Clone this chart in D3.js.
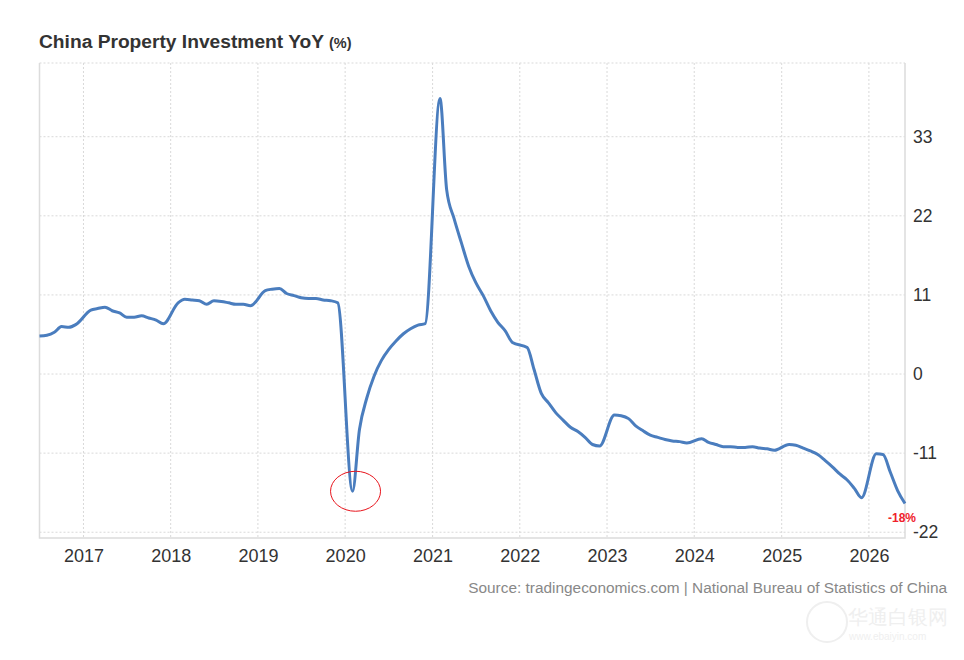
<!DOCTYPE html>
<meta http-equiv="Content-type" content="text/html; charset=UTF-8"/>
<style>
  body { margin: 0; background: #fff; }
  * { font-family: 'Liberation Sans', Arial, sans-serif }
</style>
<svg width="964" height="660"></svg>
<script src="https://d3js.org/d3.v7.min.js"></script>
<script>
// monthly YTD readings, January is folded into February
var months = [
  "2016-07","2016-08","2016-09","2016-10","2016-11","2016-12",
  "2017-02","2017-03","2017-04","2017-05","2017-06","2017-07","2017-08","2017-09","2017-10","2017-11","2017-12",
  "2018-02","2018-03","2018-04","2018-05","2018-06","2018-07","2018-08","2018-09","2018-10","2018-11","2018-12",
  "2019-02","2019-03","2019-04","2019-05","2019-06","2019-07","2019-08","2019-09","2019-10","2019-11","2019-12",
  "2020-02","2020-03","2020-04","2020-05","2020-06","2020-07","2020-08","2020-09","2020-10","2020-11","2020-12",
  "2021-02","2021-03","2021-04","2021-05","2021-06","2021-07","2021-08","2021-09","2021-10","2021-11","2021-12",
  "2022-02","2022-03","2022-04","2022-05","2022-06","2022-07","2022-08","2022-09","2022-10","2022-11","2022-12",
  "2023-02","2023-03","2023-04","2023-05","2023-06","2023-07","2023-08","2023-09","2023-10","2023-11","2023-12",
  "2024-02","2024-03","2024-04","2024-05","2024-06","2024-07","2024-08","2024-09","2024-10","2024-11","2024-12",
  "2025-02","2025-03","2025-04","2025-05","2025-06","2025-07","2025-08","2025-09","2025-10","2025-11","2025-12",
  "2026-02","2026-03","2026-04","2026-05","2026-06"
];
var values = [
  5.3, 5.4, 5.8, 6.6, 6.5, 6.9,
  8.9, 9.1, 9.3, 8.8, 8.5, 7.9, 7.9, 8.1, 7.8, 7.5, 7.0,
  9.9, 10.4, 10.3, 10.2, 9.7, 10.2, 10.1, 9.9, 9.7, 9.7, 9.5,
  11.6, 11.8, 11.9, 11.2, 10.9, 10.6, 10.5, 10.5, 10.3, 10.2, 9.9,
  -16.3, -7.7, -3.3, -0.3, 1.9, 3.4, 4.6, 5.6, 6.3, 6.8, 7.0,
  38.3, 25.6, 21.6, 18.3, 15.0, 12.7, 10.9, 8.8, 7.2, 6.0, 4.4,
  3.7, 0.7, -2.7, -4.0, -5.4, -6.4, -7.4, -8.0, -8.8, -9.8, -10.0,
  -5.7, -5.8, -6.2, -7.2, -7.9, -8.5, -8.8, -9.1, -9.3, -9.4, -9.6,
  -9.0, -9.5, -9.8, -10.1, -10.1, -10.2, -10.2, -10.1, -10.3, -10.4, -10.6,
  -9.8, -9.9, -10.3, -10.7, -11.2, -12.0, -12.9, -13.9, -14.7, -15.9, -17.2,
  -11.1, -11.2, -13.7, -16.2, -18.0
];
var yTicks = [-22, -11, 0, 11, 22, 33];
var circledMonth = "2020-02";
var title = "China Property Investment YoY";
var unit = "(%)";
var source = "Source: tradingeconomics.com | National Bureau of Statistics of China";

var svg = d3.select("svg"),
    pLeft = 39.5, pRight = 905, pTop = 63, pBottom = 538;

var parseMonth = d3.timeParse("%Y-%m");
var data = months.map(function(m, i) { return {date: parseMonth(m), value: values[i]}; });

var x = d3.scaleTime()
    .domain(d3.extent(data, function(d) { return d.date; }))
    .range([pLeft, pRight]);

var y = d3.scaleLinear()
    .domain([-22.8, 43.25])
    .range([pBottom, pTop]);

var years = x.ticks(d3.timeYear.every(1));

// grid
svg.append("g")
  .selectAll("line")
  .data(years)
  .join("line")
    .attr("x1", function(d) { return x(d); })
    .attr("x2", function(d) { return x(d); })
    .attr("y1", pTop)
    .attr("y2", pBottom)
    .attr("stroke", "#d9d9d9")
    .attr("stroke-dasharray", "2,2");

svg.append("g")
  .selectAll("line")
  .data(yTicks)
  .join("line")
    .attr("x1", pLeft)
    .attr("x2", pRight)
    .attr("y1", function(d) { return y(d); })
    .attr("y2", function(d) { return y(d); })
    .attr("stroke", "#d9d9d9")
    .attr("stroke-dasharray", "2,2");

// frame
svg.append("line")
    .attr("x1", pLeft).attr("x2", pRight).attr("y1", pTop).attr("y2", pTop)
    .attr("stroke", "#d9d9d9").attr("stroke-dasharray", "2,2");
svg.append("path")
    .attr("d", "M" + pLeft + "," + pTop + "V" + pBottom + "H" + pRight + "V" + pTop)
    .attr("fill", "none")
    .attr("stroke", "#dcdcdc")
    .attr("stroke-width", 1.5);

// axes
svg.append("g")
    .attr("transform", "translate(0," + pBottom + ")")
    .call(d3.axisBottom(x).tickValues(years).tickFormat(d3.timeFormat("%Y")).tickSize(0).tickPadding(11))
    .call(function(g) { g.select(".domain").remove(); })
    .selectAll("text")
    .attr("font-size", 18)
    .attr("fill", "#333");

svg.append("g")
    .attr("transform", "translate(" + (pRight + 8) + ",0)")
    .call(d3.axisRight(y).tickValues(yTicks).tickSize(0).tickPadding(0).tickFormat(String))
    .call(function(g) { g.select(".domain").remove(); })
    .selectAll("text")
    .attr("font-size", 17.5)
    .attr("fill", "#333");

// series
svg.append("path")
    .datum(data)
    .attr("fill", "none")
    .attr("stroke", "#4a7dbe")
    .attr("stroke-width", 3)
    .attr("stroke-linejoin", "round")
    .attr("d", d3.line()
      .curve(d3.curveMonotoneX)
      .x(function(d) { return x(d.date); })
      .y(function(d) { return y(d.value); }));

// red ring round the 2020 low
var low = data[months.indexOf(circledMonth)];
svg.append("ellipse")
    .attr("cx", x(low.date) + 3)
    .attr("cy", y(low.value))
    .attr("rx", 25)
    .attr("ry", 20)
    .attr("fill", "none")
    .attr("stroke", "#e8141c")
    .attr("stroke-width", 1);

// last value label
var last = data[data.length - 1];
svg.append("text")
    .attr("x", x(last.date) - 3)
    .attr("y", y(last.value) + 19)
    .attr("text-anchor", "middle")
    .attr("font-size", 12)
    .attr("font-weight", "bold")
    .attr("fill", "#f0212b")
    .text(Math.round(last.value) + "%");

// title
var t = svg.append("text")
    .attr("x", 39)
    .attr("y", 48)
    .attr("fill", "#333")
    .attr("font-weight", "bold");
t.append("tspan").attr("font-size", 19.2).text(title + " ");
t.append("tspan").attr("font-size", 14.5).text(unit);

svg.append("text")
    .attr("x", 947)
    .attr("y", 593)
    .attr("text-anchor", "end")
    .attr("font-size", 15.4)
    .attr("fill", "#888")
    .text(source);

// faint watermark
svg.append("circle")
    .attr("cx", 827).attr("cy", 622).attr("r", 20)
    .attr("fill", "none").attr("stroke", "#efefef").attr("stroke-width", 2);
svg.append("text")
    .attr("x", 848).attr("y", 624)
    .attr("font-size", 20)
    .attr("fill", "#efefef")
    .attr("font-family", "Noto Sans CJK SC")
    .text("华通白银网");
svg.append("text")
    .attr("x", 849).attr("y", 640)
    .attr("font-size", 10)
    .attr("fill", "#efefef")
    .text("www.ebaiyin.com");
</script>
